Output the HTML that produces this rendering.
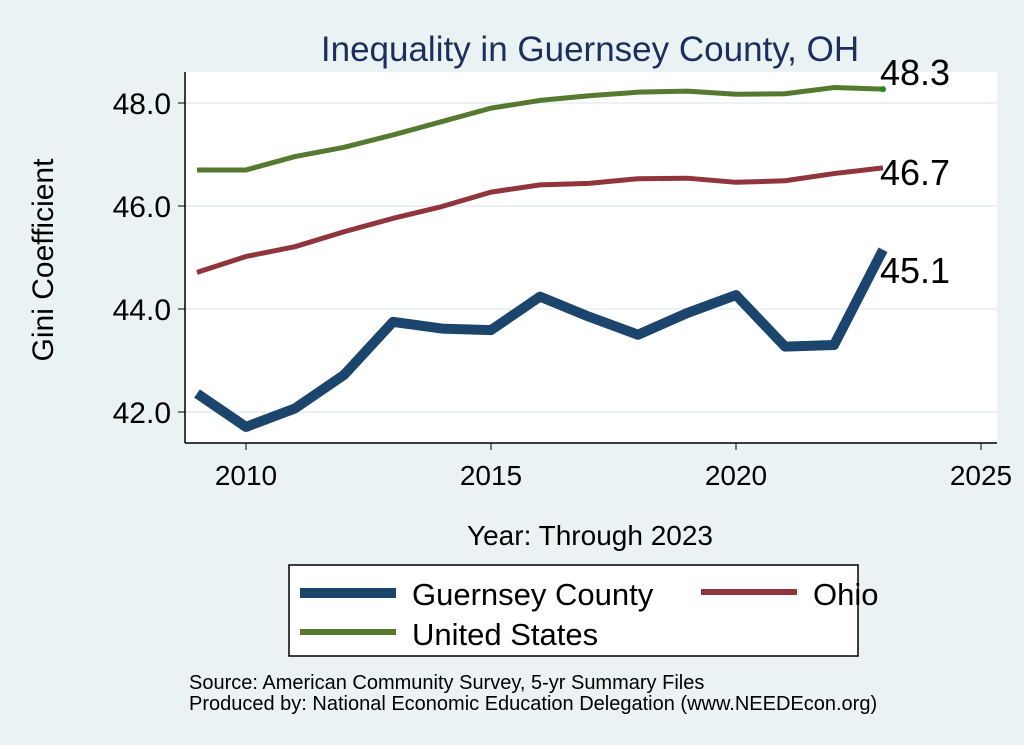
<!DOCTYPE html>
<html><head><meta charset="utf-8"><style>
body{margin:0;background:#eaf2f3;}
svg{display:block;font-family:"Liberation Sans",Arial,sans-serif;}
</style></head><body>
<svg width="1024" height="745">
<rect x="0" y="0" width="1024" height="745" fill="#eaf2f3"/>
<text x="590" y="61" font-size="35" fill="#1b2f5e" text-anchor="middle">Inequality in Guernsey County, OH</text>
<rect x="185" y="72" width="812" height="371" fill="#fff"/>
<g id="grid"></g>
<g id="series"></g>
<g id="axes"></g>
<text transform="translate(53,260) rotate(-90)" font-size="30" text-anchor="middle" fill="#000">Gini Coefficient</text>
<text x="590" y="545" font-size="28" text-anchor="middle" fill="#000">Year: Through 2023</text>
<g>
<rect x="289" y="565" width="569" height="91" fill="#fff" stroke="#000" stroke-width="1.5"/>
<line x1="300" y1="593" x2="396" y2="593" stroke="#1c456e" stroke-width="10"/>
<text x="412" y="605" font-size="31">Guernsey County</text>
<line x1="701" y1="592" x2="797" y2="592" stroke="#90353b" stroke-width="6"/>
<text x="813" y="605" font-size="31">Ohio</text>
<line x1="300" y1="632" x2="396" y2="632" stroke="#55792e" stroke-width="6"/>
<text x="412" y="645" font-size="31">United States</text>
</g>
<text x="189" y="689" font-size="20">Source: American Community Survey, 5-yr Summary Files</text>
<text x="189" y="710" font-size="20">Produced by: National Economic Education Delegation (www.NEEDEcon.org)</text>
</svg>
<script>
const years=[2009,2010,2011,2012,2013,2014,2015,2016,2017,2018,2019,2020,2021,2022,2023];
const guernsey=[42.36,41.71,42.07,42.72,43.75,43.62,43.59,44.24,43.85,43.50,43.92,44.27,43.27,43.30,45.15];
const ohio=[44.71,45.02,45.21,45.50,45.76,45.99,46.27,46.41,46.44,46.53,46.54,46.46,46.49,46.63,46.74];
const us=[46.70,46.70,46.96,47.14,47.38,47.64,47.90,48.05,48.14,48.21,48.23,48.17,48.18,48.30,48.27];
const yTicks=[42,44,46,48];
const xTicks=[2010,2015,2020,2025];
const endLabels=["45.1","46.7","48.3"];
const NS="http://www.w3.org/2000/svg";
function X(v){return 246+(v-2010)*49.0;}
function Y(v){return 206-(v-46)*51.5;}
function mk(tag,attrs,parent,text){const e=document.createElementNS(NS,tag);for(const k in attrs)e.setAttribute(k,attrs[k]);if(text!==undefined)e.textContent=text;parent.appendChild(e);return e;}
const grid=document.getElementById('grid'),ser=document.getElementById('series'),ax=document.getElementById('axes');
yTicks.forEach(t=>{
 const g=mk('line',{x1:185,x2:997,y1:Y(t),y2:Y(t),stroke:'#eaf2f3','stroke-width':2},grid);
 
 
 const tk=mk('line',{x1:178,x2:185,y1:Y(t),y2:Y(t),stroke:'#000'},ax);
 
 
 const l=mk('text',{x:171,y:Y(t)+11,'font-size':30,'text-anchor':'end'},ax,t.toFixed(1));
 
 
});
xTicks.forEach(t=>{
 const tk=mk('line',{x1:X(t),x2:X(t),y1:443,y2:450,stroke:'#000'},ax);
 
 
 const l=mk('text',{x:X(t),y:485,'font-size':28,'text-anchor':'middle'},ax,String(t));
 
 
});
const la=mk('line',{x1:185,x2:185,y1:72,y2:443,stroke:'#000','stroke-width':1.5},ax);


const ba=mk('line',{x1:185,x2:997,y1:443,y2:443,stroke:'#000','stroke-width':1.5},ax);


const defs=[[us,'#55792e',5,'us-line'],[ohio,'#90353b',5,'ohio-line'],[guernsey,'#1c456e',10,'guernsey-line']];
defs.forEach(([d,c,w,n])=>{
 const p=mk('polyline',{points:d.map((v,i)=>X(years[i])+','+Y(v)).join(' '),fill:'none',stroke:c,'stroke-width':w,'stroke-linejoin':'round'},ser);
 
 
});
const dot=mk('circle',{cx:X(2023),cy:Y(us[14]),r:3,fill:'#1a8a1a'},ser);


[[guernsey,0,'guernsey-end-label',33],[ohio,1,'ohio-end-label',17],[us,2,'us-end-label',-4]].forEach(([d,i,n,dy])=>{
 const l=mk('text',{x:X(2023)-3,y:Y(d[14])+dy,'font-size':36},ser,endLabels[i]);
 
 
});
</script>
</body></html>
